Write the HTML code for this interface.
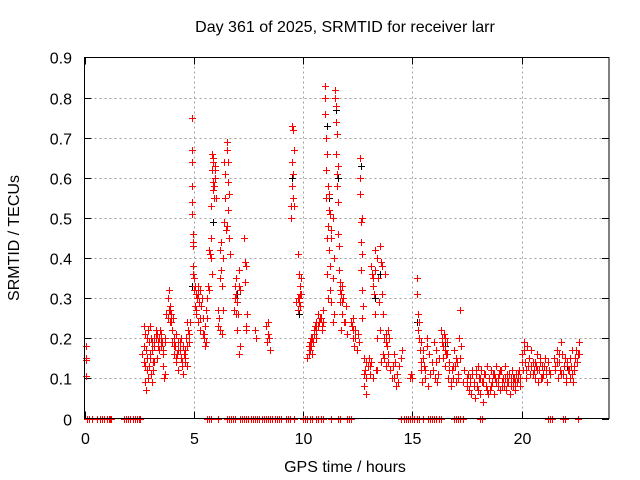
<!DOCTYPE html>
<html><head><meta charset="utf-8"><style>
body{margin:0;background:#fff}
svg{display:block;font-family:"Liberation Sans",sans-serif}
</style></head><body>
<svg id="chart" width="640" height="480" viewBox="0 0 640 480" xmlns="http://www.w3.org/2000/svg">
<rect width="640" height="480" fill="#fff"/>
<text x="345" y="32" font-size="16" text-anchor="middle">Day 361 of 2025, SRMTID for receiver larr</text>
<g id="grid"></g>
<g id="ticks"></g>
<g id="blk"></g>
<g id="red"></g>
<rect x="84.5" y="57.5" width="524.5" height="361" fill="none" stroke="#000" stroke-width="1"/>
<text transform="translate(19,238) rotate(-90)" font-size="16" text-anchor="middle">SRMTID / TECUs</text>
<text x="345" y="472" font-size="16" text-anchor="middle">GPS time / hours</text>
</svg>
<script>
const xTicks=[0,5,10,15,20];
const yTicks=[0,0.1,0.2,0.3,0.4,0.5,0.6,0.7,0.8,0.9];
const yTickLabels=["0","0.1","0.2","0.3","0.4","0.5","0.6","0.7","0.8","0.9"];
const redT=[0.05,0.05,0.05,0.05,
2.65,2.7,2.7,2.75,2.75,2.8,2.8,2.85,2.85,2.9,2.9,2.95,2.95,3.0,3.0,3.05,3.05,3.1,3.1,3.15,3.15,3.2,3.2,3.25,3.3,3.3,3.35,3.4,3.4,3.45,3.5,3.5,3.55,3.6,3.6,3.65,3.7,3.7,3.75,3.8,3.8,3.85,3.85,3.9,3.9,3.95,4.0,4.0,4.05,4.1,4.1,4.15,4.2,4.2,4.25,4.3,4.3,4.35,4.4,4.4,4.45,4.5,4.5,4.55,4.6,4.6,4.65,4.7,4.7,4.75,4.8,4.85,
4.9,4.9,4.9,4.9,4.92,4.92,4.95,4.95,4.95,4.97,4.97,5.0,5.0,5.05,5.05,5.1,5.1,5.15,5.2,5.2,5.25,5.3,5.3,5.35,5.4,5.4,5.45,5.5,5.5,5.55,5.6,5.6,5.65,5.7,5.7,5.75,5.8,5.8,5.82,5.85,5.85,5.87,5.9,5.9,5.92,5.95,5.95,5.97,6.0,
6.1,6.15,6.2,6.2,6.25,6.25,6.3,6.3,6.35,6.4,6.4,6.45,6.45,6.5,6.5,6.52,6.55,6.55,6.6,6.6,6.65,
6.85,6.9,6.9,6.95,6.95,7.0,7.0,7.05,7.05,7.1,7.1,7.3,7.32,7.35,7.35,7.4,7.4,7.45,7.8,7.85,8.3,8.35,8.4,8.4,8.45,8.5,
9.45,9.45,9.5,9.5,9.5,9.52,9.55,9.55,9.57,9.6,9.7,9.75,9.75,9.8,9.8,9.85,9.85,9.9,9.9,
10.2,10.25,10.3,10.3,10.35,10.4,10.4,10.45,10.5,10.55,10.6,10.6,10.7,10.75,10.8,10.85,10.9,10.9,
11.0,11.0,11.02,11.05,11.05,11.07,11.1,11.1,11.12,11.15,11.15,11.18,11.2,11.2,11.22,11.25,11.25,11.3,11.3,11.35,11.35,11.4,11.4,
11.45,11.47,11.5,11.5,11.52,11.55,11.55,11.57,11.6,11.6,11.65,11.65,11.7,11.7,11.75,11.75,11.8,11.8,11.85,11.9,11.95,12.0,
12.2,12.25,12.3,12.3,12.35,12.4,12.45,12.5,12.55,12.6,12.6,12.62,12.65,12.65,12.67,12.7,12.7,12.72,12.75,12.8,12.8,12.85,12.9,12.9,12.95,
13.0,13.05,13.1,13.1,13.15,13.2,13.2,13.25,13.3,13.3,13.35,13.4,13.4,13.45,13.5,13.5,13.55,13.6,13.6,13.65,13.7,13.7,13.75,13.8,13.8,13.85,13.9,13.9,13.95,14.0,
14.1,14.15,14.2,14.25,14.3,14.35,14.4,14.5,14.55,14.9,14.95,15.0,
15.2,15.22,15.25,15.3,15.3,15.35,15.4,15.4,15.45,15.5,15.55,15.6,15.65,15.7,15.75,15.8,15.9,15.95,16.0,16.05,16.1,16.15,16.2,
16.3,16.35,16.4,16.4,16.45,16.5,16.5,16.55,16.6,16.65,16.7,16.75,16.8,16.85,16.9,16.95,17.0,17.05,17.1,17.15,17.2,17.25,17.3,17.35,
17.5,17.55,17.6,17.65,17.7,17.75,17.8,17.85,17.9,17.95,18.0,18.05,18.1,18.15,18.2,18.25,18.3,18.35,18.4,18.45,18.5,18.55,18.6,18.65,18.7,18.75,18.8,18.85,18.9,18.95,19.0,19.05,19.1,19.15,19.2,19.25,19.3,19.35,19.4,19.45,19.5,19.55,19.6,19.65,19.7,19.75,19.8,19.85,19.9,19.95,
20.0,20.05,20.1,20.15,20.2,20.25,20.3,20.35,20.4,20.45,20.5,20.55,20.6,20.65,20.7,20.75,20.8,20.85,20.9,20.95,21.0,21.05,21.1,21.15,21.2,21.25,21.3,
21.5,21.55,21.6,21.65,21.7,21.75,21.8,21.85,21.9,21.95,22.0,22.05,22.1,22.15,22.2,22.25,22.3,22.35,22.4,22.45,22.5,22.55,22.6,22.65];
const redV=[0.18,0.15,0.145,0.105,
0.16,0.23,0.14,0.21,0.09,0.17,0.07,0.15,0.12,0.22,0.1,0.19,0.13,0.23,0.16,0.2,0.11,0.17,0.09,0.14,0.12,0.2,0.18,0.22,0.15,0.21,0.19,0.2,0.17,0.22,0.18,0.21,0.19,0.16,0.13,0.1,0.2,0.11,0.26,0.3,0.25,0.32,0.27,0.24,0.28,0.26,0.22,0.19,0.25,0.16,0.2,0.18,0.14,0.21,0.16,0.12,0.19,0.17,0.15,0.2,0.13,0.18,0.11,0.16,0.14,0.15,0.2,0.18,0.24,0.22,0.19,0.24,
0.75,0.67,0.64,0.58,0.54,0.51,0.46,0.44,0.43,0.38,0.36,0.35,0.32,0.33,0.28,0.31,0.26,0.3,0.33,0.24,0.29,0.32,0.22,0.28,0.25,0.21,0.2,0.23,0.18,0.19,0.3,0.25,0.33,0.42,0.32,0.41,0.53,0.45,0.36,0.66,0.62,0.59,0.57,0.65,0.55,0.63,0.6,0.62,0.55,
0.27,0.25,0.42,0.22,0.37,0.44,0.33,0.21,0.4,0.64,0.49,0.55,0.61,0.69,0.67,0.48,0.52,0.64,0.45,0.56,0.41,
0.27,0.33,0.3,0.26,0.35,0.29,0.22,0.16,0.37,0.32,0.18,0.45,0.45,0.39,0.34,0.38,0.22,0.26,0.22,0.2,0.23,0.19,0.21,0.24,0.2,0.17,
0.53,0.5,0.73,0.64,0.58,0.72,0.61,0.55,0.67,0.53,0.29,0.27,0.41,0.3,0.36,0.28,0.33,0.31,0.35,
0.15,0.16,0.19,0.17,0.18,0.2,0.16,0.19,0.21,0.23,0.24,0.22,0.26,0.24,0.25,0.23,0.27,0.24,
0.83,0.8,0.76,0.7,0.62,0.55,0.45,0.36,0.3,0.58,0.48,0.52,0.42,0.56,0.32,0.51,0.38,0.45,0.29,0.5,0.24,0.4,0.26,
0.82,0.8,0.78,0.74,0.66,0.71,0.61,0.58,0.54,0.46,0.43,0.37,0.34,0.29,0.31,0.22,0.33,0.26,0.3,0.24,0.28,0.21,
0.24,0.23,0.2,0.25,0.18,0.22,0.17,0.21,0.19,0.65,0.6,0.56,0.49,0.44,0.37,0.32,0.25,0.5,0.28,0.15,0.08,0.12,0.1,0.06,0.13,
0.15,0.11,0.38,0.14,0.36,0.35,0.1,0.31,0.42,0.26,0.12,0.4,0.2,0.35,0.22,0.43,0.14,0.31,0.38,0.26,0.2,0.15,0.36,0.21,0.13,0.18,0.22,0.16,0.2,0.12,
0.13,0.1,0.14,0.08,0.11,0.09,0.13,0.15,0.17,0.1,0.11,0.1,
0.35,0.31,0.26,0.24,0.2,0.17,0.12,0.19,0.09,0.15,0.13,0.1,0.2,0.08,0.16,0.11,0.14,0.12,0.19,0.1,0.17,0.09,0.15,
0.22,0.2,0.18,0.15,0.21,0.17,0.13,0.16,0.19,0.1,0.14,0.08,0.12,0.1,0.17,0.13,0.09,0.14,0.11,0.2,0.27,0.18,0.09,0.12,
0.08,0.11,0.07,0.1,0.06,0.12,0.09,0.05,0.11,0.08,0.13,0.1,0.06,0.12,0.09,0.04,0.11,0.08,0.13,0.06,0.1,0.07,0.12,0.09,0.11,0.06,0.1,0.13,0.08,0.11,0.07,0.12,0.09,0.1,0.08,0.13,0.07,0.11,0.09,0.06,0.1,0.12,0.08,0.1,0.07,0.11,0.09,0.1,0.12,0.08,
0.16,0.12,0.19,0.14,0.1,0.18,0.13,0.15,0.11,0.17,0.14,0.12,0.1,0.13,0.16,0.09,0.12,0.14,0.1,0.13,0.11,0.15,0.12,0.09,0.14,0.12,0.11,
0.15,0.13,0.17,0.1,0.14,0.12,0.19,0.16,0.11,0.13,0.15,0.09,0.14,0.12,0.1,0.13,0.17,0.09,0.12,0.15,0.17,0.14,0.16,0.19];
// additional red points filling denser clusters
const redT2=[2.72,2.78,2.88,2.98,3.08,3.18,3.28,3.38,3.48,3.58,3.68,3.92,3.98,4.08,4.18,4.28,4.38,4.48,4.58,4.68,4.78,
5.08,5.18,5.28,5.38,5.48,5.58,5.68,5.78,5.88,5.93,6.12,6.22,6.32,6.48,6.58,6.92,7.02,7.08,7.38,
9.78,9.82,9.88,10.28,10.38,10.48,10.58,10.68,10.78,10.88,11.08,11.28,11.38,11.58,11.68,11.78,11.88,
12.28,12.38,12.68,12.78,12.88,13.08,13.18,13.28,13.38,13.48,13.58,13.68,13.78,13.88,14.05,14.18,14.28,14.38,
15.28,15.38,15.48,15.58,15.68,16.08,16.18,16.38,16.48,16.58,16.68,16.78,16.88,16.98,17.08,17.18,
17.52,17.62,17.72,17.82,17.92,18.02,18.12,18.22,18.32,18.42,18.52,18.62,18.72,18.82,18.92,19.02,19.12,19.22,19.32,19.42,19.52,19.62,19.72,19.82,19.92,
20.02,20.12,20.22,20.32,20.42,20.52,20.62,20.72,20.82,20.92,21.02,21.12,21.22,21.52,21.62,21.72,21.82,21.92,22.02,22.12,22.22,22.32,22.42,22.52,22.62];
const redV2=[0.18,0.13,0.2,0.15,0.19,0.14,0.2,0.18,0.2,0.17,0.19,0.27,0.24,0.18,0.15,0.17,0.19,0.14,0.17,0.13,0.21,
0.27,0.31,0.25,0.3,0.21,0.27,0.32,0.4,0.64,0.58,0.23,0.35,0.27,0.47,0.59,0.31,0.26,0.33,0.23,
0.3,0.29,0.31,0.18,0.2,0.22,0.2,0.23,0.25,0.22,0.66,0.47,0.35,0.63,0.32,0.29,0.24,
0.22,0.2,0.41,0.11,0.14,0.13,0.33,0.37,0.12,0.29,0.39,0.16,0.19,0.14,0.1,0.16,0.11,0.13,
0.22,0.14,0.17,0.12,0.18,0.14,0.11,0.19,0.2,0.16,0.12,0.09,0.13,0.15,0.1,0.15,
0.1,0.09,0.11,0.08,0.12,0.07,0.1,0.09,0.11,0.07,0.1,0.08,0.11,0.09,0.1,0.12,0.08,0.1,0.09,0.11,0.08,0.1,0.09,0.11,0.1,
0.14,0.17,0.12,0.15,0.13,0.11,0.14,0.12,0.15,0.1,0.13,0.11,0.14,0.12,0.14,0.16,0.11,0.13,0.1,0.12,0.15,0.11,0.13,0.14,0.16];
const zeroT=[0.1,0.2,0.35,0.55,0.7,0.8,0.9,1.05,1.1,1.15,1.2,1.8,1.9,2.0,2.1,2.2,2.3,2.4,2.5,2.55,5.6,5.7,5.8,6.1,6.5,6.6,6.7,6.8,6.9,7.1,7.2,7.3,7.4,7.5,7.6,7.7,7.8,7.9,8.0,8.1,8.2,8.3,8.4,8.5,8.6,8.7,8.8,8.9,9.0,9.2,9.3,9.4,9.6,10.0,10.1,10.2,10.3,10.4,10.6,10.7,10.8,10.9,11.3,11.6,11.7,12.0,12.1,12.2,14.5,14.6,14.7,14.8,14.9,15.0,15.1,15.2,15.3,15.5,15.7,15.8,15.9,16.0,16.1,16.2,16.3,16.9,17.0,17.1,17.2,17.3,18.1,18.2,21.2,21.3,21.4,21.9,22.0,22.6];
const blackT=[0.05,4.9,5.9,6.5,7.0,9.5,9.8,11.1,11.2,11.5,11.6,12.65,13.3,13.5,15.2,16.5,22.1];
const blackV=[0.15,0.33,0.49,0.48,0.31,0.6,0.26,0.73,0.55,0.77,0.6,0.63,0.3,0.36,0.24,0.18,0.13];

const X0=84.5,X1=609,Y0=418.5,Y1=57.5,XMAX=24,YMAX=0.9;
const xs=t=>X0+(X1-X0)*t/XMAX;
const ys=v=>Y0-(Y0-Y1)*v/YMAX;
const NS='http://www.w3.org/2000/svg';
function mk(tag,attrs,parent){const e=document.createElementNS(NS,tag);for(const k in attrs)e.setAttribute(k,attrs[k]);parent.appendChild(e);return e;}
const grid=document.getElementById('grid'),ticks=document.getElementById('ticks');
yTicks.forEach((v,i)=>{
  const y=Math.round(ys(v))+0.5;
  if(i>0&&i<yTicks.length-1){const g=mk('line',{x1:X0,x2:X1,y1:y,y2:y,stroke:'#a0a0a0','stroke-dasharray':'2,3'},grid);
  
  }
  mk('line',{x1:X0,x2:X0+7,y1:y,y2:y,stroke:'#000'},ticks);
  mk('line',{x1:X1-7,x2:X1,y1:y,y2:y,stroke:'#000'},ticks);
  const t=mk('text',{x:72,y:y+6,'font-size':16,'text-anchor':'end'},ticks);t.textContent=yTickLabels[i];
  
  
});
xTicks.forEach(h=>{
  const x=Math.round(xs(h))+0.5;
  if(h>0){const g=mk('line',{x1:x,x2:x,y1:Y0,y2:Y1,stroke:'#a0a0a0','stroke-dasharray':'2,3'},grid);
  
  }
  mk('line',{x1:x,x2:x,y1:Y0,y2:Y0-7,stroke:'#000'},ticks);
  mk('line',{x1:x,x2:x,y1:Y1,y2:Y1+7,stroke:'#000'},ticks);
  const t=mk('text',{x:x,y:444,'font-size':16,'text-anchor':'middle'},ticks);t.textContent=String(h);
  
  
});
function plus(x,y){x=Math.round(x)+0.5;y=Math.round(y)+0.5;return `M${x-3.5},${y}h7M${x},${y-3.5}v7`;}
let d='';
for(let i=0;i<blackT.length;i++)d+=plus(xs(blackT[i]),ys(blackV[i]));
const pb=mk('path',{d:d,stroke:'#000','stroke-width':1,fill:'none'},document.getElementById('blk'));


d='';
for(let i=0;i<redT.length;i++)d+=plus(xs(redT[i]),ys(redV[i]));
for(let i=0;i<redT2.length;i++)d+=plus(xs(redT2[i]),ys(redV2[i]));
for(let i=0;i<zeroT.length;i++)d+=plus(xs(zeroT[i]),ys(0));
const pr=mk('path',{d:d,stroke:'#ff0000','stroke-width':1,fill:'none'},document.getElementById('red'));


</script>
</body></html>
